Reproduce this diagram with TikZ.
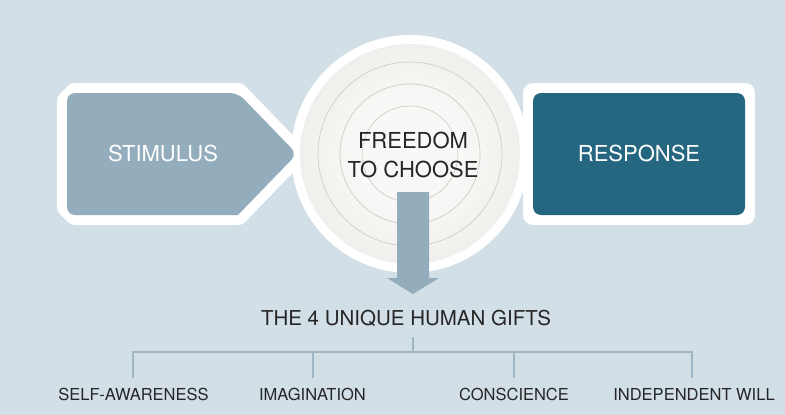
\documentclass[tikz,border=0pt]{standalone}
\usepackage{fontspec}
\setmainfont{TeX Gyre Heros}
\definecolor{bg}{HTML}{D2DFE7}
\definecolor{stim}{HTML}{93ADBD}
\definecolor{resp}{HTML}{256680}
\definecolor{ink}{HTML}{262626}
\definecolor{treeline}{HTML}{A0B6C4}
\definecolor{ring}{HTML}{CFCCC8}
\definecolor{discin}{HTML}{F9F8F6}
\definecolor{discout}{HTML}{E4E2DF}
\pgfdeclareradialshading{discshade}{\pgfpoint{0bp}{0bp}}{color(0bp)=(discin); color(12bp)=(discin); color(44bp)=(discout); color(50bp)=(discout!80!white)}
\begin{document}
\begin{tikzpicture}[x=1pt,y=-1pt,
  boxtext/.style={text=white,font=\fontsize{22}{26}\selectfont,inner sep=0pt},
  circtext/.style={text=ink,font=\fontsize{22}{26}\selectfont,align=center,inner sep=0pt},
  titletext/.style={text=ink,font=\fontsize{20.5}{24}\selectfont,inner sep=0pt},
  gift/.style={text=ink,font=\fontsize{16.5}{20}\selectfont,inner sep=0pt},
  halo/.style={fill=white,draw=white,line width=20pt,line join=round},
  tree/.style={draw=treeline,line width=1.5pt}]
\useasboundingbox (0,0) rectangle (785,415);
\fill[bg] (0,0) rectangle (785,415);
% white outlines
\path[halo] (75,93) -- (238,93) -- (297,154) -- (238,215) -- (75,215) -- (67,207) -- (67,101) -- cycle;
\path[halo] (533,93) rectangle (745,215);
% circle
\fill[white] (410,154) circle (119);
\shade[shading=discshade] (410,154) circle (110);
\foreach \r in {92,70,48} \draw[ring,line width=0.7pt] (410,154) circle (\r);
% stimulus
\fill[stim,rounded corners=8pt] (67,154) -- (67,93) -- (238,93) -- (297,154) [sharp corners] -- (238,215) [rounded corners=8pt] -- (67,215) -- cycle;
\node[boxtext] (stim) at (163,153) {STIMULUS};
% response
\fill[resp,rounded corners=8pt] (533,93) rectangle (745,215);
\node[boxtext] (resp) at (639,153) {RESPONSE};
% freedom
\node[circtext] (free) at (413,155) {FREEDOM\\[3pt]TO CHOOSE};
% down arrow
\coordinate (atop) at (413,192);
\coordinate (atip) at (413,294);
\fill[stim] (397,192) -- (429,192) -- (429,278) -- (439,278) -- (atip) -- (387,278) -- (397,278) -- cycle;
% title
\node[titletext] (title) at (406,318) {THE 4 UNIQUE HUMAN GIFTS};
% gifts
\node[gift] (g1) at (133.5,394) {SELF-AWARENESS};
\node[gift] (g2) at (312.5,394) {IMAGINATION};
\node[gift] (g3) at (514,394) {CONSCIENCE};
\node[gift] (g4) at (694,394) {INDEPENDENT WILL};
\coordinate (stubtop) at (413,337);
\coordinate (hub) at (413,352);
\draw[tree] (stubtop) -- (hub);
\draw[tree] (133,378) -- (133,352) -- (692,352) -- (692,378);
\draw[tree] (313,352) -- (313,378);
\draw[tree] (514,352) -- (514,378);
\end{tikzpicture}
\end{document}
